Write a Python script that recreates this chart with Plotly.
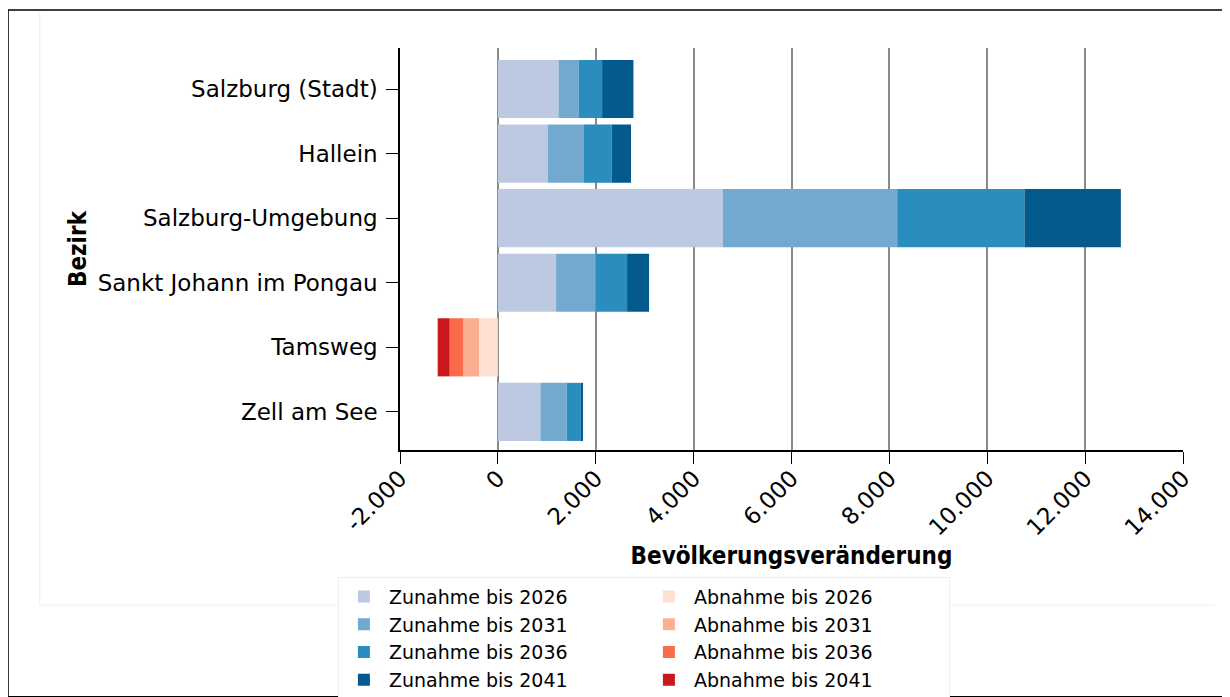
import plotly.graph_objects as go

# Bezirke, von oben nach unten
bezirke = ["Salzburg (Stadt)", "Hallein", "Salzburg-Umgebung",
           "Sankt Johann im Pongau", "Tamsweg", "Zell am See"]

# Zuwachs je Periode (gestapelt)
zunahme_2026 = [1240, 1020, 4600, 1190, 0, 870]
zunahme_2031 = [410, 740, 3560, 810, 0, 535]
zunahme_2036 = [480, 565, 2600, 640, 0, 290]
zunahme_2041 = [640, 395, 1970, 450, 0, 45]

# Rückgang je Periode (nur Tamsweg)
abnahme_2026 = [0, 0, 0, 0, -385, 0]
abnahme_2031 = [0, 0, 0, 0, -320, 0]
abnahme_2036 = [0, 0, 0, 0, -280, 0]
abnahme_2041 = [0, 0, 0, 0, -245, 0]

x_ticks = [-2000, 0, 2000, 4000, 6000, 8000, 10000, 12000, 14000]
x_labels = ["-2.000", "0", "2.000", "4.000", "6.000", "8.000",
            "10.000", "12.000", "14.000"]

serien = [
    ("Zunahme bis 2026", zunahme_2026, "#bdc9e1", 1),
    ("Zunahme bis 2031", zunahme_2031, "#74a9cf", 3),
    ("Zunahme bis 2036", zunahme_2036, "#2b8cbe", 5),
    ("Zunahme bis 2041", zunahme_2041, "#045a8d", 7),
    ("Abnahme bis 2026", abnahme_2026, "#fee0d2", 2),
    ("Abnahme bis 2031", abnahme_2031, "#fcae91", 4),
    ("Abnahme bis 2036", abnahme_2036, "#fb6a4a", 6),
    ("Abnahme bis 2041", abnahme_2041, "#cb181d", 8),
]

fig = go.Figure()
for name, vals, col, rank in serien:
    fig.add_trace(go.Bar(
        y=bezirke, x=vals, name=name, orientation="h",
        marker=dict(color=col, line=dict(width=0)),
        legendrank=rank,
    ))

COND = "DejaVu Sans Condensed, DejaVu Sans, sans-serif"
REG = "DejaVu Sans, sans-serif"

fig.update_layout(
    width=1230, height=697,
    barmode="relative", bargap=0.1,
    plot_bgcolor="white", paper_bgcolor="white",
    font=dict(family=COND, size=20, color="black"),
    margin=dict(l=392, r=55, t=40, b=255, autoexpand=False),
    showlegend=True,
    legend=dict(
        orientation="h", xref="container", yref="container",
        x=0.517, y=0.184, xanchor="center", yanchor="top",
        entrywidth=250, entrywidthmode="pixels",
        font=dict(family=REG, size=19), traceorder="normal",
        bgcolor="white", bordercolor="#eeeeee", borderwidth=1,
        itemwidth=40,
    ),
    xaxis=dict(
        range=[-2000, 14000], tickvals=x_ticks, ticktext=x_labels,
        tickangle=-45, ticks="outside", ticklen=12, tickcolor="black",
        tickfont=dict(family=REG, size=23), ticklabelstandoff=-8,
        showgrid=True, gridcolor="#8a8a8a", gridwidth=2,
        zeroline=True, zerolinecolor="#8a8a8a", zerolinewidth=2,
        showline=True, linecolor="black", linewidth=1.5,
        title=dict(text="<b>Bevölkerungsveränderung</b>", standoff=8),
    ),
    yaxis=dict(
        range=[5.59, -0.635], ticks="outside", ticklen=12, tickcolor="black",
        tickfont=dict(family=REG, size=23), ticklabelstandoff=4,
        showline=True, linecolor="black", linewidth=1.5, showgrid=False,
        title=dict(text="<b>Bezirk</b>", standoff=4),
    ),
    shapes=[
        dict(type="rect", xref="paper", yref="paper",
             x0=-0.5006, x1=1.0575, y0=-0.614, y1=1.0945,
             line=dict(color="black", width=1.5), layer="below"),
        dict(type="line", xref="paper", yref="paper",
             x0=-0.46, x1=-0.46, y0=-0.386, y1=1.09,
             line=dict(color="#eeeeee", width=1), layer="below"),
        dict(type="line", xref="paper", yref="paper",
             x0=-0.46, x1=1.04, y0=-0.386, y1=-0.386,
             line=dict(color="#eeeeee", width=1), layer="below"),
    ],
)

fig.write_html("out.html")
